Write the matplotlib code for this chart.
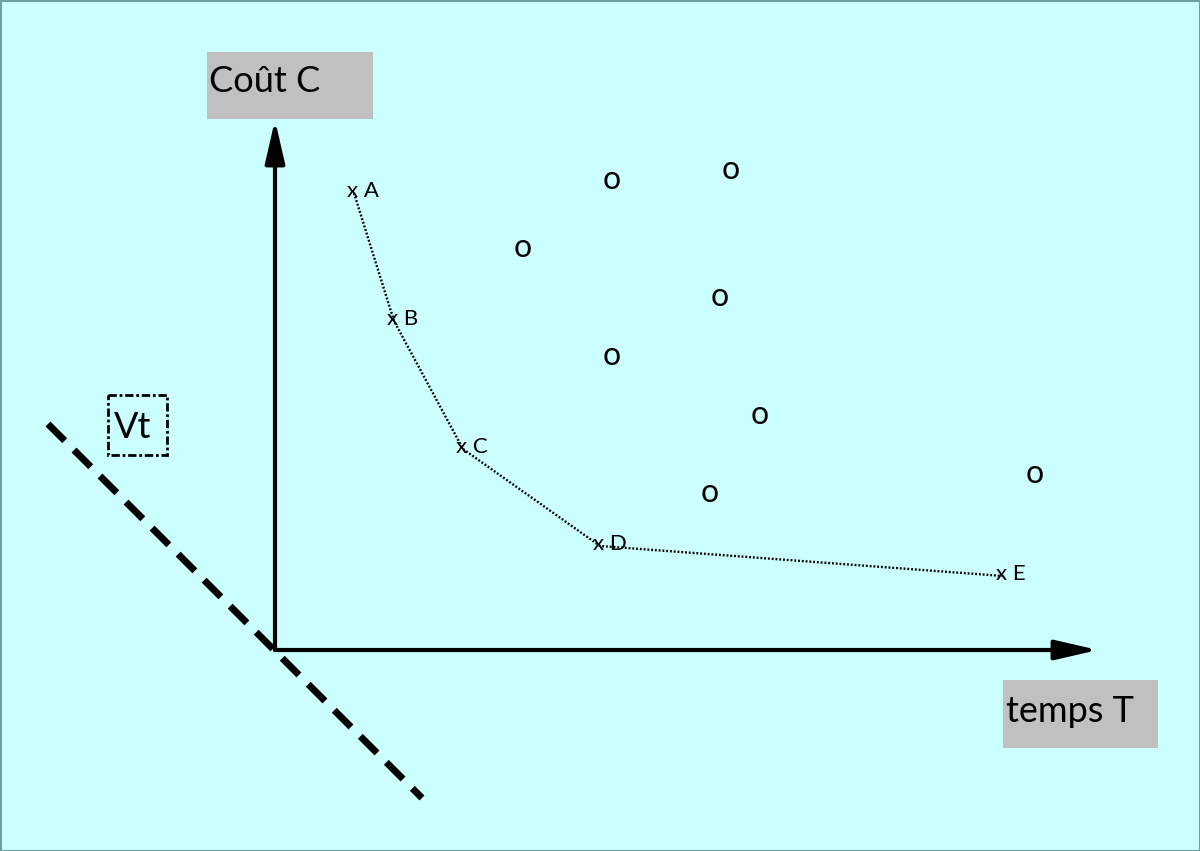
import matplotlib.pyplot as plt
from matplotlib.patches import Rectangle

plt.rcParams['font.family'] = ['Lato', 'DejaVu Sans']

# front points (pixel-like diagram coordinates)
pt_names = ['A', 'B', 'C', 'D', 'E']
pt_x = [352, 392, 461, 598, 1001]
pt_y = [191, 319, 447, 544, 574]

# dominated solutions
o_x = [612, 731, 523, 720, 612, 760, 710, 1035]
o_y = [180, 170, 248, 297, 356, 415, 493, 474]

origin = (275, 650)
x_tip = (1098, 650)
y_tip = (275, 120)

vt_line_x = [48, 422]
vt_line_y = [424, 798]

bg = '#ccffff'

fig = plt.figure(figsize=(12, 8.51), dpi=100)
fig.patch.set_facecolor(bg)
ax = fig.add_axes([0, 0, 1, 1])
ax.set_facecolor(bg)
ax.set_xlim(0, 1200)
ax.set_ylim(851, 0)
ax.axis('off')

ax.add_patch(Rectangle((0.5, 0.5), 1199, 850, fill=False, edgecolor='#6f9f9f', lw=1.5))

# axes arrows
arrow = dict(arrowstyle='-|>,head_length=1.3,head_width=0.3', lw=3, color='black',
             mutation_scale=20, shrinkA=0, shrinkB=0)
ax.annotate('', xy=x_tip, xytext=origin, arrowprops=arrow)
ax.annotate('', xy=y_tip, xytext=origin, arrowprops=arrow)

# Vt dashed line
ax.plot(vt_line_x, vt_line_y, color='black', lw=5, linestyle=(0, (3.4, 1.9)),
        solid_capstyle='butt', dash_capstyle='butt')

# front curve
ax.plot([x + 2 for x in pt_x], [y + 2 for y in pt_y], color='black', lw=1.7,
        linestyle=(0, (0.8, 0.8)))
for n, x, y in zip(pt_names, pt_x, pt_y):
    ax.text(x - 5, y, 'x ' + n, fontsize=16, ha='left', va='center', color='black')

for x, y in zip(o_x, o_y):
    ax.text(x, y, 'o', fontsize=23, ha='center', va='center', color='black')

# labels
ax.add_patch(Rectangle((207, 52), 166, 67, facecolor='#c0c0c0', edgecolor='none'))
ax.text(209, 82, 'Coût C', fontsize=26, ha='left', va='center')
ax.add_patch(Rectangle((1003, 680), 155, 68, facecolor='#c0c0c0', edgecolor='none'))
ax.text(1006, 711, 'temps T', fontsize=26, ha='left', va='center')

ax.add_patch(Rectangle((108, 395), 59, 60, fill=False, edgecolor='black', lw=2,
                       linestyle=(0, (3, 1, 1, 1))))
ax.text(114, 427, 'Vt', fontsize=26, ha='left', va='center')

fig.savefig('out.png', dpi=100, facecolor=bg)
